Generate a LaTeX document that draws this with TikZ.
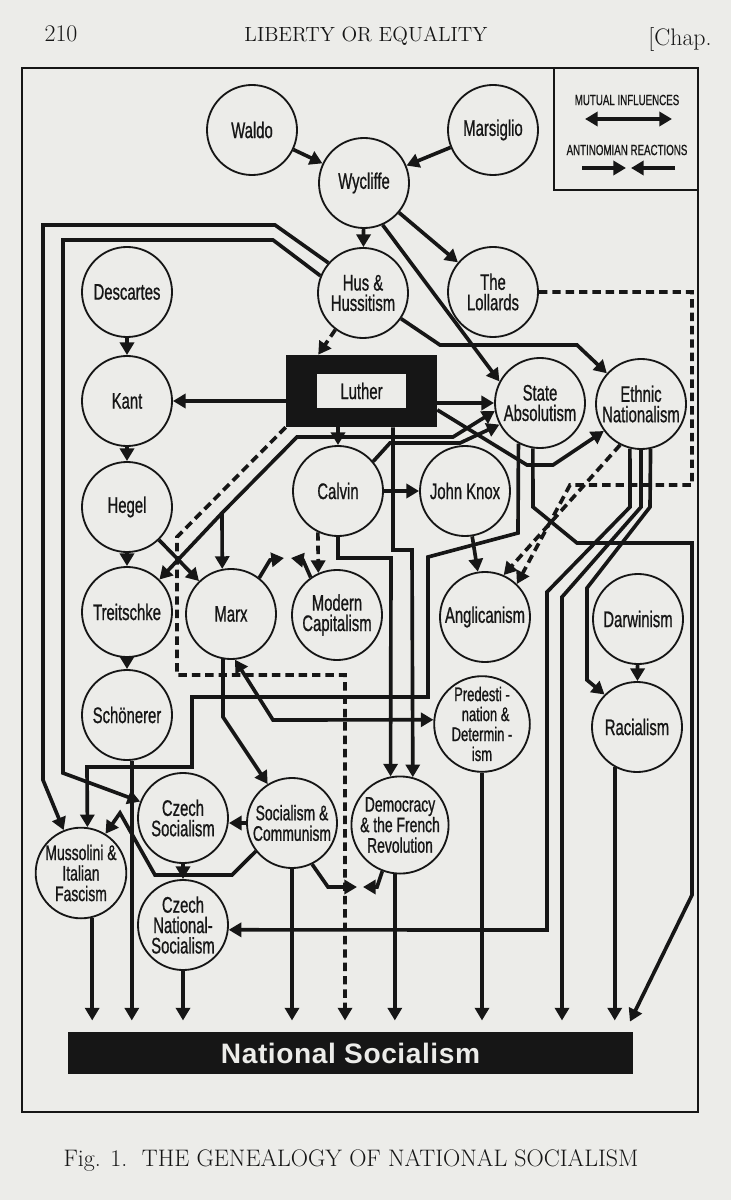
\documentclass[tikz,border=0pt]{standalone}
\usepackage{fontspec}
\usepackage{tikz}
\usetikzlibrary{arrows.meta,positioning}
\newfontfamily\figfont[FakeStretch=0.66, FakeBold=0.8]{Liberation Sans}
\newfontfamily\barfont[LetterSpace=2]{Liberation Sans}
\definecolor{paper}{RGB}{236,236,233}
\definecolor{ink}{RGB}{22,22,22}

\begin{document}
\begin{tikzpicture}[x=0.025cm, y=-0.025cm,
    idea/.style={circle, draw=ink, line width=1.3pt, fill=paper, minimum size=2.25cm, inner sep=0pt, align=center, text=ink, font=\figfont\fontsize{16}{14.5}\selectfont},
    smalltext/.style={font=\figfont\fontsize{15}{14.6}\selectfont},
    tinytext/.style={font=\figfont\fontsize{14}{14.2}\selectfont},
    lutherbox/.style={rectangle, fill=ink, minimum width=3.775cm, minimum height=1.8cm, inner sep=0pt},
    luthertag/.style={rectangle, fill=paper, minimum width=2.2cm, minimum height=0.825cm, inner sep=0pt, text=ink, font=\figfont\fontsize{16}{16}\selectfont},
    nsbar/.style={rectangle, fill=ink, minimum width=14.125cm, minimum height=1.05cm, inner sep=0pt, text=paper, font=\barfont\bfseries\fontsize{20}{20}\selectfont},
    legendtext/.style={inner sep=0pt, text=ink, font=\figfont\fontsize{10.5}{11}\selectfont},
    pagetext/.style={inner sep=0pt, text=ink},
    infl/.style={-{Triangle[length=9pt,width=10pt]}, line width=2.6pt, ink},
    mutual/.style={{Triangle[length=9pt,width=10pt]}-{Triangle[length=9pt,width=10pt]}, line width=2.6pt, ink},
    anti/.style={infl, dash pattern=on 6pt off 3.5pt},
    tons/.style={infl, shorten >=8pt}]

\fill[paper] (0,0) rectangle (731,1200);
\useasboundingbox (0,0) rectangle (731,1200);

\node[pagetext, font=\fontsize{17}{17}\selectfont] (pageno) at (61,34) {\oldstylenums{210}};
\node[pagetext, font=\fontsize{14.6}{14.6}\selectfont] (runhead) at (366,36) {LIBERTY OR EQUALITY};
\node[pagetext, font=\fontsize{17}{17}\selectfont] (chap) at (680,40) {[Chap.};

\draw[ink, line width=1.2pt] (22,68) rectangle (698,1112);
\draw[ink, line width=1.1pt] (554,68) rectangle (698,190);

\node[legendtext] (mutlabel) at (627,100) {MUTUAL INFLUENCES};
\coordinate (mutl) at (585,119);
\coordinate (mutr) at (672,119);
\draw[mutual] (mutl) -- (mutr);
\node[legendtext] (antlabel) at (627,150) {ANTINOMIAN REACTIONS};
\coordinate (antl) at (582,168);
\coordinate (antml) at (626,168);
\coordinate (antmr) at (631,168);
\coordinate (antr) at (675,168);
\draw[infl] (antl) -- (antml);
\draw[infl] (antr) -- (antmr);

\node[idea] (waldo) at (252,130) {Waldo};
\node[idea] (mars) at (493,130) {Marsiglio};
\node[idea] (wyc) at (364,183) {Wycliffe};
\node[idea] (hus) at (363,293) {Hus \&\\Hussitism};
\node[idea] (loll) at (493,292) {The\\Lollards};
\node[idea] (desc) at (127,292) {Descartes};
\node[idea] (kant) at (127,401) {Kant};
\node[idea] (hegel) at (127,507) {Hegel};
\node[idea] (treit) at (127,612) {Treitschke};
\node[idea] (schon) at (127,715) {Schönerer};
\node[lutherbox] (luther) at (361.5,391) {};
\node[luthertag] (lutherlabel) at (luther.center) {Luther};
\node[idea] (sa) at (540,403) {State\\Absolutism};
\node[idea] (en) at (641,404) {Ethnic\\Nationalism};
\node[idea] (calvin) at (338,491) {Calvin};
\node[idea] (knox) at (465,491) {John Knox};
\node[idea] (marx) at (231,614) {Marx};
\node[idea] (modcap) at (337,615) {Modern\\Capitalism};
\node[idea] (angl) at (485,617) {Anglicanism};
\node[idea] (darwin) at (638,619) {Darwinism};
\node[idea, tinytext] (predest) at (482,724) {Predesti -\\\ \ nation \&\\Determin -\\ism};
\node[idea] (racial) at (637,727) {Racialism};
\node[idea] (czsoc) at (183,818) {Czech\\Socialism};
\node[idea, smalltext] (soccom) at (292,823) {Socialism \&\\Communism};
\node[idea, smalltext] (democ) at (400,825) {Democracy\\\& the French\\Revolution};
\node[idea, smalltext] (musso) at (81,873) {Mussolini \&\\Italian\\Fascism};
\node[idea] (cznat) at (183,925) {Czech\\National-\\Socialism};
\node[nsbar] (ns) at (350.5,1053) {National Socialism};

\draw[infl] (waldo) -- (wyc);
\draw[infl] (mars) -- (wyc);
\draw[infl] (wyc) -- (hus);
\draw[infl] (wyc) -- (loll);
\draw[infl] (wyc.-66) -- (sa.152);

\draw[infl] (hus.139) -- (275,225) -- (43,225) -- (43,780) -- (musso.112);
\draw[infl] (hus.158) -- (273,240) -- (63,240) -- (63,773) -- (czsoc.159);
\draw[anti] (hus.-127) -- (luther.140);
\draw[infl] (hus.-34) -- (440,345) -- (577,345) -- (en.138);

\draw[anti] (loll.east) -- (692,292) -- (692,485) -- (570,485) -- (angl.46);
\draw[anti] (en.-117) -- (angl.66);

\draw[infl] (desc) -- (kant);
\draw[infl] (kant) -- (hegel);
\draw[infl] (hegel) -- (treit);
\draw[infl] (treit) -- (schon);
\draw[infl] (hegel) -- (marx);

\draw[infl] (luther.west |- kant.east) -- (kant.east);
\draw[infl] (luther.east |- sa.west) -- (sa.west);
\draw[infl] (luther.south -| calvin.north) -- (calvin.north);
\draw[infl] (luther.-14) -- (527,465) -- (553,465) -- (en.-144);
\draw[infl] (luther.-49) -- (393,550) -- (412,550) -- (democ.75);
\draw[anti, shorten >=8pt] (luther.south west) -- (177,537) -- (177,675) -- (345,675) -- (ns.north -| 345,0);

\coordinate (fork) at (222,513);
\draw[mutual] (treit.45) -- (fork) -- (297,437) -- (453,437) -- (sa.190);
\draw[infl] (fork) -- (marx.101);

\draw[infl] (calvin) -- (knox);
\draw[anti] (calvin.-116) -- (modcap.114);
\draw[infl] (calvin.south) -- (338,558) -- (391,558) -- (democ.101);
\draw[infl] (calvin.40) -- (390,443) -- (460,443) -- (sa.208);
\draw[infl] (knox) -- (angl);

\coordinate (mxtip) at (284,558);
\coordinate (mctip) at (291,558);
\draw[infl] (marx.52) -- (270,560) -- (mxtip);
\draw[infl] (modcap.125) -- (303,560) -- (mctip);
\draw[infl] (marx.-100) -- (223,717) -- (soccom.122);
\draw[mutual] (marx.-85) -- (273,720) -- (predest.175);

\draw[infl] (sa.-118) -- (518,533) -- (428,557) -- (428,697) -- (192,697) -- (192,767) -- (87,767) -- (musso.82);
\draw[tons] (sa.-99) -- (533,507) -- (577,543) -- (692,543) -- (692,895) -- (ns.north -| 625,0);

\draw[infl] (en.-104) -- (630,507) -- (547,592) -- (547,930) -- (cznat.-6);
\draw[tons] (en.-90) -- (641,507) -- (562,597) -- (ns.north -| 562,0);
\draw[infl] (en.-78) -- (650,507) -- (587,588) -- (587,680) -- (racial.135);
\draw[infl] (darwin) -- (racial);

\draw[infl] (czsoc) -- (cznat);
\draw[infl] (soccom.west) -- (czsoc.east |- soccom.west);
\draw[infl] (soccom.-142) -- (232,875) -- (155,875) -- (120,813) -- (musso.58);
\coordinate (sctip) at (357,887);
\coordinate (dctip) at (363,887);
\draw[infl] (soccom.-64) -- (328,887) -- (sctip);
\draw[infl] (democ.-111) -- (377,887) -- (dctip);

\draw[tons] (musso.-76) -- (ns.north -| musso.-76);
\draw[tons] (schon.-84) -- (ns.north -| schon.-84);
\draw[tons] (cznat.south) -- (ns.north -| cznat.south);
\draw[tons] (soccom.south) -- (ns.north -| soccom.south);
\draw[tons] (democ.-96) -- (ns.north -| democ.-96);
\draw[tons] (predest.south) -- (ns.north -| predest.south);
\draw[tons] (racial.-119) -- (ns.north -| racial.-119);

\node[pagetext, font=\fontsize{17}{17}\selectfont] (caption) at (351,1160) {Fig. \oldstylenums{1}.\ \ THE GENEALOGY OF NATIONAL SOCIALISM};
\end{tikzpicture}
\end{document}
